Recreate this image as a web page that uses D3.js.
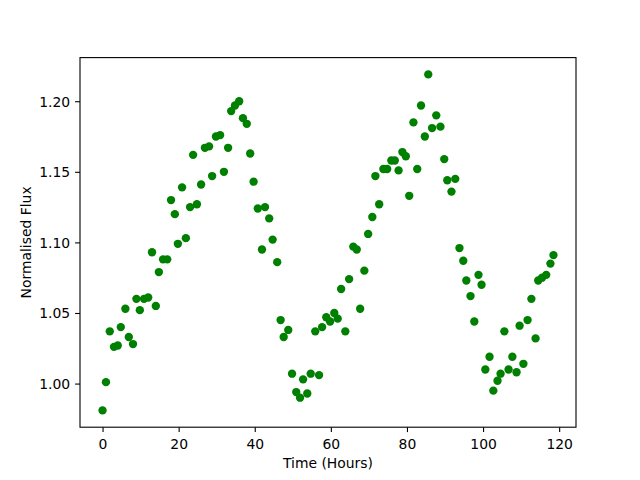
<!DOCTYPE html>
<html><head><meta charset="utf-8">
<script src="https://cdn.jsdelivr.net/npm/d3@7"></script>
<style>body{margin:0;background:#fff}svg{display:block}text{font-family:"DejaVu Sans",sans-serif;fill:#000}</style>
</head><body><svg id="c" width="640" height="480"></svg>
<script>
const times = [0.0,0.9,1.9,3.0,4.0,4.8,6.0,6.9,8.0,8.9,9.8,10.9,12.0,13.0,14.0,14.8,15.9,17.0,18.0,19.0,19.8,20.9,21.9,23.0,23.8,24.8,25.9,26.9,28.0,28.8,29.8,30.9,31.9,33.0,33.8,34.8,35.9,36.9,37.9,38.8,39.7,40.8,41.9,42.7,43.8,44.7,45.9,46.8,47.6,48.8,49.8,50.9,51.9,52.7,53.8,54.7,55.9,56.9,57.7,58.8,59.8,60.9,61.8,62.7,63.8,64.8,65.9,66.8,67.7,68.8,69.8,70.9,71.7,72.7,73.8,74.8,75.9,76.8,77.8,78.8,79.7,80.6,81.7,82.7,83.7,84.7,85.6,86.6,87.7,88.8,89.8,90.6,91.7,92.7,93.8,94.8,95.6,96.7,97.7,98.8,99.6,100.6,101.7,102.7,103.8,104.6,105.6,106.7,107.7,108.8,109.6,110.6,111.7,112.7,113.8,114.5,115.5,116.6,117.7,118.5];
const flux = [0.981,1.001,1.037,1.026,1.027,1.040,1.053,1.033,1.028,1.060,1.052,1.060,1.061,1.093,1.055,1.079,1.088,1.088,1.130,1.120,1.099,1.139,1.103,1.125,1.162,1.127,1.141,1.167,1.168,1.147,1.175,1.176,1.150,1.167,1.193,1.197,1.200,1.188,1.184,1.163,1.143,1.124,1.095,1.125,1.117,1.102,1.086,1.045,1.033,1.038,1.007,0.994,0.990,1.003,0.993,1.007,1.037,1.006,1.040,1.047,1.044,1.050,1.046,1.067,1.037,1.074,1.097,1.095,1.053,1.080,1.106,1.118,1.147,1.127,1.152,1.152,1.158,1.158,1.151,1.164,1.161,1.133,1.185,1.152,1.197,1.175,1.219,1.181,1.190,1.182,1.159,1.144,1.136,1.145,1.096,1.087,1.073,1.062,1.044,1.077,1.070,1.010,1.019,0.995,1.002,1.007,1.037,1.010,1.019,1.008,1.041,1.014,1.045,1.060,1.032,1.073,1.075,1.077,1.085,1.091];
const xTicks = [0,20,40,60,80,100,120];
const yTicks = [1.00,1.05,1.10,1.15,1.20];
const xLabel = "Time (Hours)";
const yLabel = "Normalised Flux";

const L=80,R=576,T=57.6,B=427.2;
const svg=d3.select("#c");
const [xmin,xmax]=d3.extent(times),[ymin,ymax]=d3.extent(flux);
const xm=(xmax-xmin)*0.05, ym=(ymax-ymin)*0.05;
const x=d3.scaleLinear().domain([xmin-xm,xmax+xm]).range([L,R]);
const y=d3.scaleLinear().domain([ymin-ym,ymax+ym]).range([B,T]);

svg.append("g").selectAll("circle").data(times).join("circle")
  .attr("cx",(d)=>x(d)).attr("cy",(d,i)=>y(flux[i])).attr("r",4.17).attr("fill","#008000");

const fs="13.9px";
const xa=svg.append("g").attr("transform",`translate(0,${B})`)
  .call(d3.axisBottom(x).tickValues(xTicks).tickFormat(d3.format("d")).tickSizeOuter(0).tickSize(4.9).tickPadding(4.9));
const ya=svg.append("g").attr("transform",`translate(${L},0)`)
  .call(d3.axisLeft(y).tickValues(yTicks).tickFormat(d3.format(".2f")).tickSizeOuter(0).tickSize(4.9).tickPadding(4.9));
[xa,ya].forEach(a=>{a.select(".domain").remove();a.selectAll("line").attr("stroke","#000").attr("stroke-width",1.1);
  a.selectAll("text").attr("font-size",fs).attr("font-family","DejaVu Sans").attr("fill","#000");});
xa.selectAll("text").attr("dy",null).attr("y",21.5);
ya.selectAll("text").attr("dy","0.35em");

svg.append("rect").attr("x",L).attr("y",T).attr("width",R-L).attr("height",B-T)
  .attr("fill","none").attr("stroke","#000").attr("stroke-width",1.1);

svg.append("text").attr("x",(L+R)/2).attr("y",468).attr("text-anchor","middle").attr("font-size",fs).text(xLabel);
svg.append("text").attr("transform",`translate(31,${(T+B)/2}) rotate(-90)`).attr("text-anchor","middle").attr("font-size",fs).text(yLabel);
</script></body></html>
